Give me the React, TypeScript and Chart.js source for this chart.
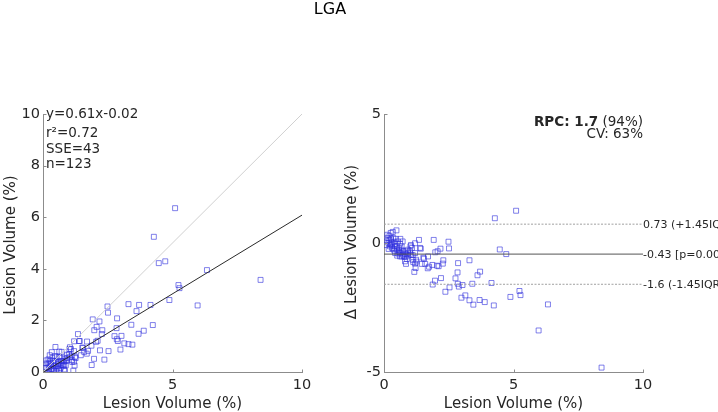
import React, { useEffect, useRef } from 'react';
import { Chart, registerables } from 'chart.js';

Chart.register(...registerables);

// ---- Data ----
const manualVol = [
  5.10, 4.28, 4.47, 4.72, 3.30, 3.71, 3.61, 4.15, 3.41, 2.86,
  2.84, 2.76, 2.85, 2.89, 3.03, 2.53, 2.37, 2.20, 1.97, 1.88,
  3.14, 2.99, 3.30, 3.45, 3.69, 3.89, 4.24, 4.88, 5.23, 5.27,
  6.33, 5.97, 8.40, 2.49, 2.51, 1.92, 2.18, 2.07, 1.98, 2.29,
  2.27, 2.11, 2.05, 1.87, 1.70, 1.74, 1.69, 1.59, 1.46, 1.52,
  1.42, 1.35, 1.20, 1.04, 1.02, 1.20, 1.24, 1.20, 1.22, 1.17,
  1.11, 1.04, 0.88, 0.85, 0.75, 0.68, 0.63, 0.72, 0.48, 0.34,
  0.13, 0.21, 0.27, 0.10, 0.17, 0.30, 0.39, 0.23, 0.36, 0.49,
  0.59, 0.43, 0.55, 0.64, 0.72, 0.81, 0.68, 0.77, 0.49, 0.30,
  0.21, 0.36, 0.44, 0.53, 0.59, 0.93, 0.94, 1.00, 0.93, 0.81,
  0.82, 0.08, 0.14, 0.26, 0.41, 0.62, 0.46, 0.70, 0.84, 0.51,
  0.31, 0.18, 0.62, 0.88, 1.11, 1.13, 1.39, 1.08, 1.54, 1.26,
  0.58, 0.40, 0.25,
];
const volDiff = [
  1.25, 0.96, -0.25, -0.43, -0.67, -1.11, -1.25, -1.55, -1.58, -0.78,
  -1.14, -1.37, -1.58, -1.69, -1.63, -1.72, -1.89, -1.36, -1.46, -1.61,
  -2.03, -2.12, -2.22, -2.39, -2.21, -2.29, -2.42, -2.09, -1.86, -2.02,
  -2.38, -3.39, -4.83, 0.05, -0.21, 0.12, -0.22, -0.32, -0.36, -0.67,
  -0.80, -0.90, -0.88, -0.85, -0.52, -0.92, -0.98, -0.81, -0.81, -0.57,
  -0.22, 0.12, -0.01, -0.08, -0.13, -0.39, -0.65, -0.80, -0.97, -1.12,
  -0.65, -0.45, -0.62, -0.81, -0.32, -0.13, 0.16, 0.06, 0.49, 0.43,
  0.32, 0.28, 0.16, 0.06, 0.00, 0.03, 0.05, -0.13, -0.23, -0.26,
  -0.19, -0.39, -0.41, -0.39, -0.45, -0.41, -0.52, -0.52, -0.13, -0.08,
  0.12, 0.19, -0.03, 0.06, -0.28, -0.39, -0.49, -0.32, -0.26, -0.71,
  -0.54, -0.08, 0.19, 0.39, -0.13, -0.03, 0.16, -0.28, -0.32, -0.49,
  -0.19, -0.23, -0.52, -0.45, -0.47, -0.74, -0.19, -0.19, -0.61, -0.72,
  -0.35, -0.30, -0.05,
];
// automated volume = manual + difference
const autoVol = manualVol.map((x, i) => Math.round((x + volDiff[i]) * 100) / 100);

const fitSlope = 0.61;
const fitIntercept = -0.02;
const meanDiff = -0.43;
const upperLoA = 0.73;
const lowerLoA = -1.6;

const leftXTicks = [0, 5, 10];
const leftYTicks = [0, 2, 4, 6, 8, 10];
const rightYTicks = [-5, 0, 5];

const statsLines = ['y=0.61x-0.02', 'r\u00B2=0.72', 'SSE=43', 'n=123'];
const loaLabels = ['0.73 (+1.45IQR)', '-0.43 [p=0.000]', '-1.6 (-1.45IQR)'];

const W = 718;
const H = 412;
const FONT = '"DejaVu Sans", sans-serif';
const TEXT = '#262626';
const AXIS = '#8c8c8c';
const MARK = 'rgba(45,45,220,0.6)';

function tickPlugin(xTicks: number[], yTicks: number[]) {
  return {
    id: 'insideTicks',
    afterDraw(chart: any) {
      const { ctx, chartArea, scales } = chart;
      ctx.save();
      ctx.strokeStyle = AXIS;
      ctx.lineWidth = 1;
      ctx.beginPath();
      xTicks.forEach((v) => {
        const px = Math.round(scales.x.getPixelForValue(v)) + 0.5;
        ctx.moveTo(px, Math.round(chartArea.bottom) + 0.5);
        ctx.lineTo(px, Math.round(chartArea.bottom) - 2.5);
      });
      yTicks.forEach((v) => {
        const py = Math.round(scales.y.getPixelForValue(v)) + 0.5;
        ctx.moveTo(Math.round(chartArea.left) + 0.5, py);
        ctx.lineTo(Math.round(chartArea.left) + 3.5, py);
      });
      ctx.stroke();
      ctx.restore();
    },
  };
}

function axisScales(yMin: number, yMax: number, yStep: number, yWidth: number) {
  const tickFont = { family: FONT, size: 14.5 };
  return {
    x: {
      type: 'linear',
      min: 0,
      max: 10,
      ticks: { stepSize: 5, padding: 5, color: TEXT, font: tickFont },
      grid: { display: true, drawOnChartArea: false, drawTicks: false, color: 'rgba(0,0,0,0)' },
      border: { display: true, color: AXIS, width: 1 },
      afterFit: (s: any) => { s.height = 40; },
    },
    y: {
      type: 'linear',
      min: yMin,
      max: yMax,
      ticks: { stepSize: yStep, padding: 3, color: TEXT, font: tickFont },
      grid: { display: true, drawOnChartArea: false, drawTicks: false, color: 'rgba(0,0,0,0)' },
      border: { display: true, color: AXIS, width: 1 },
      afterFit: (s: any) => { s.width = yWidth; },
    },
  };
}

export default function App() {
  const leftRef = useRef<HTMLCanvasElement>(null);
  const rightRef = useRef<HTMLCanvasElement>(null);

  useEffect(() => {
    document.body.style.margin = '0';
    const scatterPts = manualVol.map((x, i) => ({ x, y: autoVol[i] }));
    const diffPts = manualVol.map((x, i) => ({ x, y: volDiff[i] }));

    const leftText = {
      id: 'leftText',
      afterDraw(chart: any) {
        const { ctx, chartArea } = chart;
        ctx.save();
        ctx.fillStyle = '#000';
        ctx.font = `16px ${FONT}`;
        ctx.textAlign = 'center';
        ctx.textBaseline = 'middle';
        ctx.fillText('LGA', 330, 10);

        ctx.fillStyle = TEXT;
        ctx.font = `13.5px ${FONT}`;
        ctx.textAlign = 'left';
        const ys = [114.5, 133, 149, 164.5];
        statsLines.forEach((s, i) => ctx.fillText(s, chartArea.left + 3, ys[i]));

        ctx.font = `15px ${FONT}`;
        ctx.textAlign = 'center';
        ctx.fillText('Lesion Volume (%)', (chartArea.left + chartArea.right) / 2, 404);
        ctx.translate(11, 245);
        ctx.rotate(-Math.PI / 2);
        ctx.fillText('Lesion Volume (%)', 0, 0);
        ctx.restore();
      },
    };

    const rightText = {
      id: 'rightText',
      afterDraw(chart: any) {
        const { ctx, chartArea, scales } = chart;
        ctx.save();
        ctx.fillStyle = TEXT;
        ctx.textBaseline = 'middle';
        // RPC / CV
        const rx = chartArea.right;
        ctx.font = `13.5px ${FONT}`;
        const tail = ' (94%)';
        const tailW = ctx.measureText(tail).width;
        ctx.textAlign = 'right';
        ctx.fillText(tail, rx, 122);
        ctx.font = `bold 13.5px ${FONT}`;
        ctx.fillText('RPC: 1.7', rx - tailW, 122);
        ctx.font = `13.5px ${FONT}`;
        ctx.fillText('CV: 63%', rx, 134);

        // limit labels
        ctx.font = `11px ${FONT}`;
        ctx.textAlign = 'left';
        const vals = [upperLoA, meanDiff, lowerLoA];
        vals.forEach((v, i) => {
          ctx.fillText(loaLabels[i], chartArea.right, scales.y.getPixelForValue(v) + 1);
        });

        ctx.font = `15px ${FONT}`;
        ctx.textAlign = 'center';
        ctx.fillText('Lesion Volume (%)', (chartArea.left + chartArea.right) / 2, 404);
        ctx.translate(352, 242);
        ctx.rotate(-Math.PI / 2);
        ctx.fillText('\u0394 Lesion Volume (%)', 0, 0);
        ctx.restore();
      },
    };

    const left = new Chart(leftRef.current as HTMLCanvasElement, {
      type: 'scatter',
      data: {
        datasets: [
          {
            data: [{ x: 0, y: 0 }, { x: 10, y: 10 }],
            showLine: true, borderColor: '#d0d0d0', borderWidth: 1, pointRadius: 0,
          },
          {
            data: [{ x: 0, y: fitIntercept }, { x: 10, y: fitSlope * 10 + fitIntercept }],
            showLine: true, borderColor: '#2a2a2a', borderWidth: 1, pointRadius: 0,
          },
          {
            data: scatterPts,
            pointStyle: 'rect', pointRadius: 3.5, borderWidth: 1,
            borderColor: MARK, backgroundColor: 'rgba(0,0,0,0)',
          },
        ],
      } as any,
      options: {
        animation: false,
        responsive: false,
        events: [],
        layout: { padding: { left: 0, top: 114, right: W - 302, bottom: 0 } },
        plugins: { legend: { display: false }, tooltip: { enabled: false } },
        scales: axisScales(0, 10, 2, 43) as any,
      },
      plugins: [tickPlugin(leftXTicks, leftYTicks), leftText],
    });

    const right = new Chart(rightRef.current as HTMLCanvasElement, {
      type: 'scatter',
      data: {
        datasets: [
          {
            data: [{ x: 0, y: upperLoA }, { x: 10, y: upperLoA }],
            showLine: true, borderColor: '#a0a0a0', borderWidth: 1, borderDash: [2, 1.5], pointRadius: 0,
          },
          {
            data: [{ x: 0, y: meanDiff }, { x: 10, y: meanDiff }],
            showLine: true, borderColor: '#555555', borderWidth: 1, pointRadius: 0,
          },
          {
            data: [{ x: 0, y: lowerLoA }, { x: 10, y: lowerLoA }],
            showLine: true, borderColor: '#a0a0a0', borderWidth: 1, borderDash: [2, 1.5], pointRadius: 0,
          },
          {
            data: diffPts,
            pointStyle: 'rect', pointRadius: 3.5, borderWidth: 1,
            borderColor: MARK, backgroundColor: 'rgba(0,0,0,0)',
          },
        ],
      } as any,
      options: {
        animation: false,
        responsive: false,
        events: [],
        layout: { padding: { left: 0, top: 114, right: W - 643, bottom: 0 } },
        plugins: { legend: { display: false }, tooltip: { enabled: false } },
        scales: axisScales(-5, 5, 5, 384) as any,
      },
      plugins: [tickPlugin(leftXTicks, rightYTicks), rightText],
    });

    return () => {
      left.destroy();
      right.destroy();
    };
  }, []);

  const cs: React.CSSProperties = { position: 'absolute', left: 0, top: 0, width: W, height: H };
  return (
    <div style={{ position: 'absolute', left: 0, top: 0, width: W, height: H, background: '#fff' }}>
      <canvas ref={leftRef} width={W} height={H} style={cs} />
      <canvas ref={rightRef} width={W} height={H} style={cs} />
    </div>
  );
}
